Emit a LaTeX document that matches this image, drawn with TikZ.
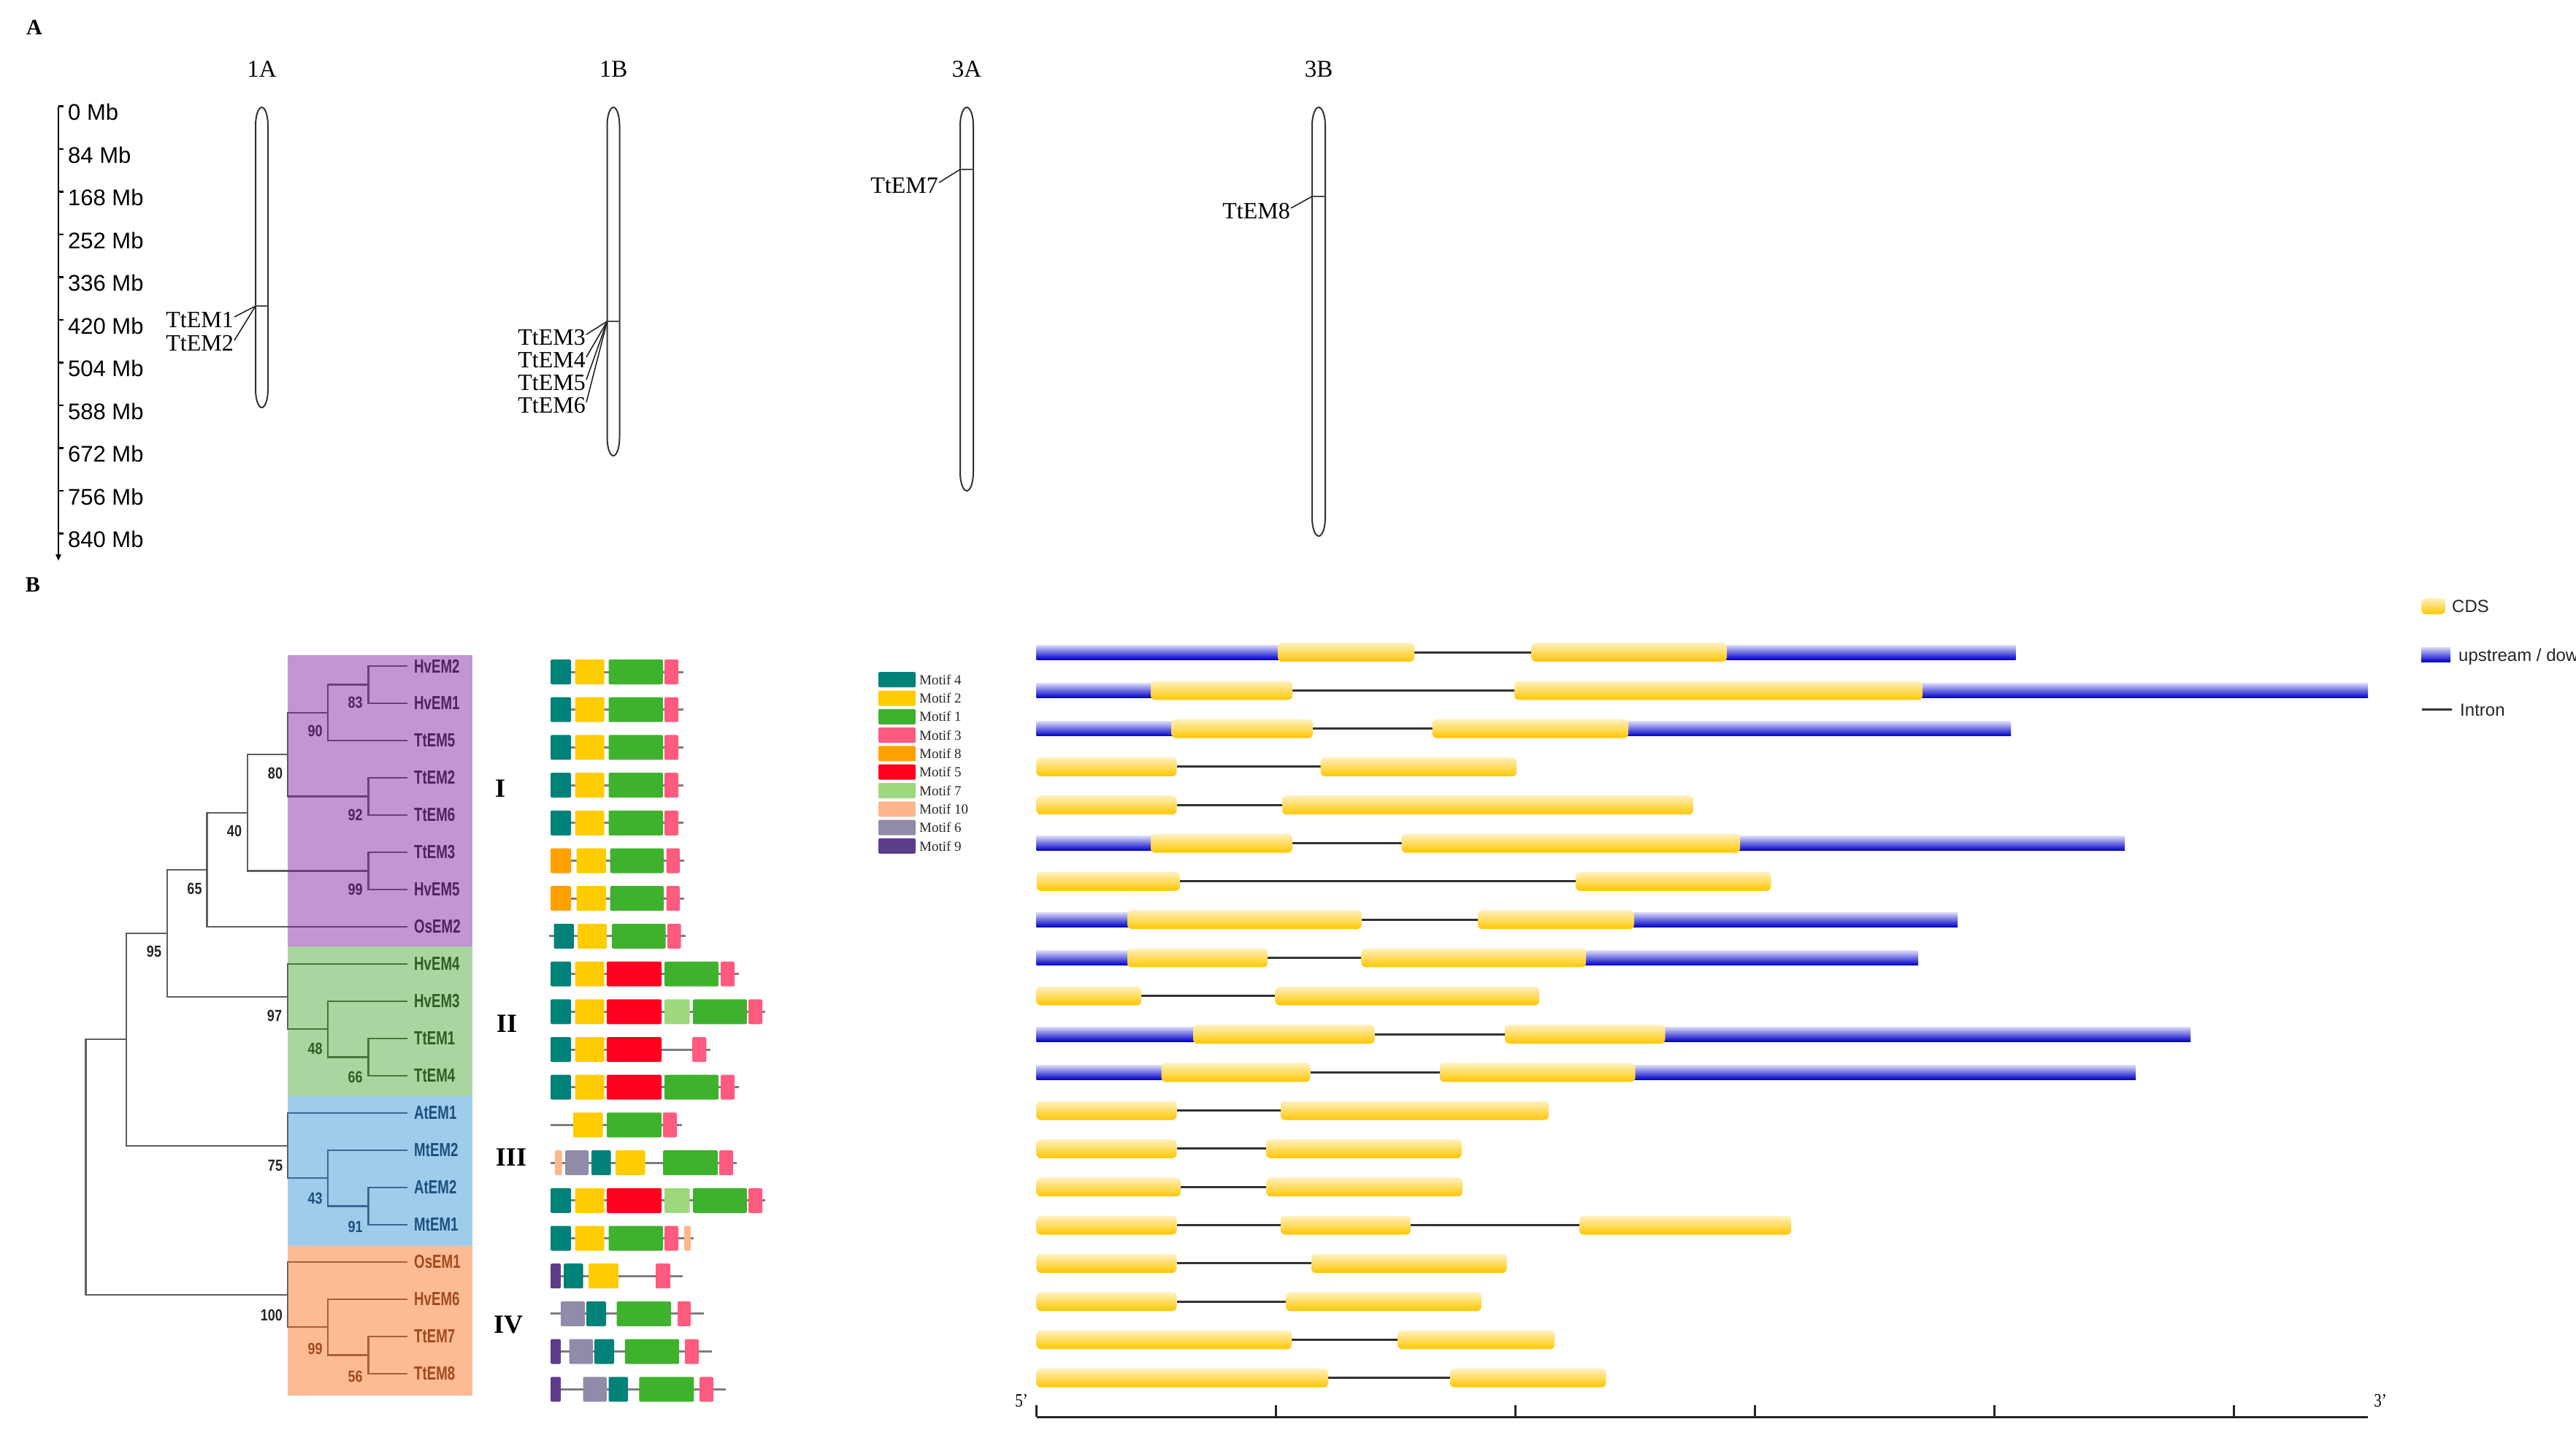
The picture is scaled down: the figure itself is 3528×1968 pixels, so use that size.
\documentclass[tikz,border=0pt]{standalone}
\usepackage{fontspec}
\setmainfont{Liberation Serif}
\newfontfamily\arialf{Liberation Sans}
\usetikzlibrary{arrows.meta}
\newcommand\fsz[1]{\fontsize{#1}{#1}\selectfont}
% colours
\definecolor{mTeal}{RGB}{0,130,120}
\definecolor{mYel}{RGB}{255,204,0}
\definecolor{mGrn}{RGB}{63,178,45}
\definecolor{mPink}{RGB}{255,90,128}
\definecolor{mOra}{RGB}{255,160,0}
\definecolor{mRed}{RGB}{255,0,30}
\definecolor{mLgr}{RGB}{157,216,126}
\definecolor{mPea}{RGB}{255,182,140}
\definecolor{mGry}{RGB}{145,138,168}
\definecolor{mPur}{RGB}{94,60,140}
\definecolor{mLine}{RGB}{125,125,125}
\definecolor{bxP}{RGB}{195,149,209}
\definecolor{bxG}{RGB}{169,213,160}
\definecolor{bxB}{RGB}{159,204,235}
\definecolor{bxO}{RGB}{253,187,147}
\definecolor{tP}{RGB}{80,35,95}
\definecolor{tG}{RGB}{45,95,35}
\definecolor{tB}{RGB}{30,80,125}
\definecolor{tO}{RGB}{160,75,30}
\definecolor{lP}{RGB}{105,65,120}
\definecolor{lG}{RGB}{70,120,60}
\definecolor{lB}{RGB}{60,105,145}
\definecolor{lO}{RGB}{170,95,55}
\definecolor{treeg}{RGB}{95,95,95}
\definecolor{cdsT}{RGB}{255,242,195}
\definecolor{cdsB}{RGB}{255,198,0}
\definecolor{utrT}{RGB}{220,220,250}
\definecolor{utrB}{RGB}{0,0,200}
\definecolor{intc}{RGB}{50,50,50}
% gene structure helpers
\newcommand\gy[1]{893+52.3*#1}
\newcommand\cdsb[3]{\shade[top color=cdsT,bottom color=cdsB,rounded corners=6pt] ({#1},{\gy{#3}-13}) rectangle ({#2},{\gy{#3}+13});}
\newcommand\utrb[3]{\shade[top color=utrT,bottom color=utrB] ({#1},{\gy{#3}-10}) rectangle ({#2},{\gy{#3}+10});}
\newcommand\intb[3]{\draw[line width=3pt,intc] ({#1},{\gy{#3}}) -- ({#2},{\gy{#3}});}
% motif helpers
\newcommand\my[1]{920+51.7*#1}
\newcommand\motb[4]{\fill[#1,rounded corners=2pt] ({#2},{\my{#4}-17}) rectangle ({#3},{\my{#4}+17});}
\newcommand\motl[3]{\draw[line width=3pt,mLine] ({#1},{\my{#3}}) -- ({#2},{\my{#3}});}
% tree edges
\newcommand\treeedges{%
\draw (n83) |- (l0) (n83) |- (l1)
 (n90) |- (n83) (n90) |- (l2)
 (n92) |- (l3) (n92) |- (l4)
 (n80) |- (n90) (n80) |- (n92)
 (n99a) |- (l5) (n99a) |- (l6)
 (n40) |- (n80) (n40) |- (n99a)
 (n65) |- (n40) (n65) |- (l7)
 (n66) |- (l10) (n66) |- (l11)
 (n48) |- (l9) (n48) |- (n66)
 (n97) |- (l8) (n97) |- (n48)
 (n95) |- (n65) (n95) |- (n97)
 (n91) |- (l14) (n91) |- (l15)
 (n43) |- (l13) (n43) |- (n91)
 (n75) |- (l12) (n75) |- (n43)
 (n173) |- (n95) (n173) |- (n75)
 (n56) |- (l18) (n56) |- (l19)
 (n99b) |- (l17) (n99b) |- (n56)
 (n100) |- (l16) (n100) |- (n99b)
 (nroot) |- (n173) (nroot) |- (n100);}
\begin{document}
\begin{tikzpicture}[x=1pt,y=-1pt,
  panel/.style={font=\bfseries\fsz{30},inner sep=0pt},
  chrlab/.style={font=\fsz{33},inner sep=0pt},
  genelab/.style={font=\fsz{32},inner sep=0pt,anchor=east},
  mblab/.style={font=\arialf\fsz{31},inner sep=0pt,anchor=base west},
  chrom/.style={line width=2pt,draw=black!80,fill=white},
  leaflab/.style={font=\arialf\bfseries\fsz{26},inner sep=0pt,anchor=west},
  bs/.style={font=\arialf\bfseries\fsz{22},inner sep=0pt},
  roman/.style={font=\bfseries\fsz{36},inner sep=0pt},
  mleg/.style={font=\fsz{19},inner sep=0pt,anchor=west,text=black!85},
  gleg/.style={font=\arialf\fsz{24},inner sep=0pt,anchor=west,text=black!85},
  conn/.style={line width=1.6pt,black!85}]
\useasboundingbox (0,0) rectangle (3528,1968);
\fill[white] (0,0) rectangle (3528,1968);

% ================= Panel A =================
\node[panel] (labA) at (47,38) {A};
% scale axis
\coordinate (axTop) at (80,145.5);
\coordinate (axBot) at (80,768);
\draw[line width=2.5pt,-{Triangle[length=9pt,width=7pt]}] (axTop) -- (axBot);
\foreach \k/\lab in {0/0,1/84,2/168,3/252,4/336,5/420,6/504,7/588,8/672,9/756,10/840}{
  \draw[line width=2.5pt] (80,{145.5+58.5*\k}) -- (87,{145.5+58.5*\k});
  \node[mblab] (mb\k) at (93,{164.5+58.5*\k}) {\lab\ Mb};
}
% chromosome labels
\node[chrlab] (c1A) at (358.5,95) {1A};
\node[chrlab] (c1B) at (840,95) {1B};
\node[chrlab] (c3A) at (1324,95) {3A};
\node[chrlab] (c3B) at (1806,95) {3B};
% chromosomes
\draw[chrom] (350,172) arc[start angle=180,end angle=360,x radius=8.5,y radius=25] -- (367,533) arc[start angle=0,end angle=180,x radius=8.5,y radius=25] -- cycle;
\draw[chrom] (831.5,172) arc[start angle=180,end angle=360,x radius=8.5,y radius=25] -- (848.5,599) arc[start angle=0,end angle=180,x radius=8.5,y radius=25] -- cycle;
\draw[chrom] (1315,172) arc[start angle=180,end angle=360,x radius=9,y radius=25] -- (1333,647) arc[start angle=0,end angle=180,x radius=9,y radius=25] -- cycle;
\draw[chrom] (1797,172) arc[start angle=180,end angle=360,x radius=9,y radius=25] -- (1815,709) arc[start angle=0,end angle=180,x radius=9,y radius=25] -- cycle;
% markers
\coordinate (m1A) at (350,419);
\coordinate (m1B) at (831.5,440);
\coordinate (m3A) at (1315,232);
\coordinate (m3B) at (1797,269);
\draw[line width=1.4pt,black!70] (m1A) -- (367,419);
\draw[line width=1.4pt,black!70] (m1B) -- (848.5,440);
\draw[line width=1.4pt,black!70] (m3A) -- (1333,232);
\draw[line width=1.4pt,black!70] (m3B) -- (1815,269);
% gene labels
\node[genelab] (g1) at (320,438) {TtEM1};
\node[genelab] (g2) at (320,470) {TtEM2};
\node[genelab] (g3) at (802,462) {TtEM3};
\node[genelab] (g4) at (802,493) {TtEM4};
\node[genelab] (g5) at (802,524) {TtEM5};
\node[genelab] (g6) at (802,555) {TtEM6};
\node[genelab] (g7) at (1285,254) {TtEM7};
\node[genelab] (g8) at (1767,289) {TtEM8};
\foreach \g/\m in {g1/m1A,g2/m1A,g3/m1B,g4/m1B,g5/m1B,g6/m1B,g7/m3A,g8/m3B}{
  \draw[conn] ([xshift=1pt,yshift=4pt]\g.east) -- (\m);
}

% ================= Panel B =================
\node[panel] (labB) at (45,801) {B};
% clade boxes
\fill[bxP] (394,897) rectangle (647,1296);
\fill[bxG] (394,1296) rectangle (647,1501);
\fill[bxB] (394,1501) rectangle (647,1706);
\fill[bxO] (394,1706) rectangle (647,1911);
% leaves
\foreach \i/\nm/\cl in {0/HvEM2/tP,1/HvEM1/tP,2/TtEM5/tP,3/TtEM2/tP,4/TtEM6/tP,5/TtEM3/tP,6/HvEM5/tP,7/OsEM2/tP,
  8/HvEM4/tG,9/HvEM3/tG,10/TtEM1/tG,11/TtEM4/tG,12/AtEM1/tB,13/MtEM2/tB,14/AtEM2/tB,15/MtEM1/tB,
  16/OsEM1/tO,17/HvEM6/tO,18/TtEM7/tO,19/TtEM8/tO}{
  \coordinate (l\i) at (558,{912+51*\i});
  \node[leaflab,text=\cl] (lab\i) at (567,{912+51*\i}) {\scalebox{0.72}[1]{\nm}};
}
% internal nodes
\coordinate (n83) at (504.5,937.5);
\coordinate (n90) at (448.7,975.75);
\coordinate (n92) at (504.5,1090.5);
\coordinate (n80) at (393.75,1033.1);
\coordinate (n99a) at (504.5,1192.5);
\coordinate (n40) at (339,1112.8);
\coordinate (n65) at (283.5,1190.9);
\coordinate (n66) at (504.5,1447.5);
\coordinate (n48) at (448.7,1409.25);
\coordinate (n97) at (393.75,1364.6);
\coordinate (n95) at (228.6,1277.8);
\coordinate (n91) at (504.5,1651.5);
\coordinate (n43) at (448.7,1613.25);
\coordinate (n75) at (393.75,1568.6);
\coordinate (n173) at (173,1423.2);
\coordinate (n56) at (504.5,1855.5);
\coordinate (n99b) at (448.7,1817.25);
\coordinate (n100) at (393.75,1772.6);
\coordinate (nroot) at (117.4,1597.9);
\begin{scope}[line width=2.2pt,color=treeg]
  \treeedges
\end{scope}
\begin{scope}
  \clip (394,897) rectangle (647,1296);
  \begin{scope}[line width=2.2pt,color=lP]\treeedges\end{scope}
\end{scope}
\begin{scope}
  \clip (394,1296) rectangle (647,1501);
  \begin{scope}[line width=2.2pt,color=lG]\treeedges\end{scope}
\end{scope}
\begin{scope}
  \clip (394,1501) rectangle (647,1706);
  \begin{scope}[line width=2.2pt,color=lB]\treeedges\end{scope}
\end{scope}
\begin{scope}
  \clip (394,1706) rectangle (647,1911);
  \begin{scope}[line width=2.2pt,color=lO]\treeedges\end{scope}
\end{scope}
% bootstrap values
\foreach \nm/\v/\x/\y/\cl in {b83/83/486.6/961.8/tP,b90/90/431.7/1001/tP,b80/80/377/1058.8/black!85,
  b92/92/486.6/1115.6/tP,b40/40/321/1138/black!85,b99a/99/486.6/1217.9/tP,b65/65/266.5/1217/black!85,
  b95/95/211/1302.7/black!85,b97/97/376/1390.6/black!85,b48/48/431.7/1436/tG,b66/66/486.6/1474.7/tG,
  b75/75/377/1596/black!85,b43/43/431.7/1641/tB,b91/91/486.6/1680/tB,b100/100/371.9/1801/black!85,
  b99b/99/431.7/1846.7/tO,b56/56/486.6/1884.5/tO}{
  \node[bs,text=\cl] (\nm) at (\x,\y) {\scalebox{0.82}[1]{\v}};
}
% clade numerals
\node[roman] (rI) at (685,1080) {I};
\node[roman] (rII) at (694,1402) {II};
\node[roman] (rIII) at (700,1585) {III};
\node[roman] (rIV) at (696,1814) {IV};

% ----- motifs -----
\foreach \r in {0,...,4}{
  \motl{754}{935.7}{\r} \motb{mTeal}{754}{782}{\r} \motb{mYel}{787.5}{827.7}{\r} \motb{mGrn}{833.5}{908}{\r} \motb{mPink}{910}{929}{\r}
}
\foreach \r in {5,6}{
  \motl{754}{937}{\r} \motb{mOra}{754}{782}{\r} \motb{mYel}{789.7}{830}{\r} \motb{mGrn}{835.7}{909}{\r} \motb{mPink}{912.5}{931}{\r}
}
\motl{752}{939}{7} \motb{mTeal}{758.5}{786}{7} \motb{mYel}{791}{831}{7} \motb{mGrn}{838}{911.6}{7} \motb{mPink}{914}{932.6}{7}
\foreach \r in {8,11}{
  \motl{754}{1011.6}{\r} \motb{mTeal}{754}{782}{\r} \motb{mYel}{787.5}{827.7}{\r} \motb{mRed}{831}{906}{\r} \motb{mGrn}{910}{984}{\r} \motb{mPink}{987}{1006}{\r}
}
\foreach \r in {9,14}{
  \motl{754}{1048}{\r} \motb{mTeal}{754}{782}{\r} \motb{mYel}{787.5}{827.7}{\r} \motb{mRed}{831}{906}{\r} \motb{mLgr}{910}{944.6}{\r} \motb{mGrn}{949}{1022.8}{\r} \motb{mPink}{1025}{1044}{\r}
}
\motl{754}{972.8}{10} \motb{mTeal}{754}{782}{10} \motb{mYel}{787.5}{827.7}{10} \motb{mRed}{831}{906}{10} \motb{mPink}{948}{967.4}{10}
\motl{754}{934}{12} \motb{mYel}{785}{825.5}{12} \motb{mGrn}{831}{906}{12} \motb{mPink}{908}{927}{12}
\motl{754}{1008.5}{13} \motb{mPea}{760}{769.6}{13} \motb{mGry}{774}{806}{13} \motb{mTeal}{810}{836.6}{13} \motb{mYel}{843}{883.5}{13} \motb{mGrn}{908}{983}{13} \motb{mPink}{985}{1004}{13}
\motl{754}{950}{15} \motb{mTeal}{754}{782}{15} \motb{mYel}{787.5}{827.7}{15} \motb{mGrn}{833.5}{908}{15} \motb{mPink}{910}{929}{15} \motb{mPea}{937}{946}{15}
\motl{754}{935}{16} \motb{mPur}{754}{768}{16} \motb{mTeal}{772}{798.7}{16} \motb{mYel}{806}{847}{16} \motb{mPink}{898}{918}{16}
\motl{754}{964}{17} \motb{mGry}{768}{801}{17} \motb{mTeal}{803}{830}{17} \motb{mGrn}{844.6}{919}{17} \motb{mPink}{928}{946}{17}
\motl{754}{975}{18} \motb{mPur}{754}{768}{18} \motb{mGry}{779.5}{812}{18} \motb{mTeal}{814}{841}{18} \motb{mGrn}{855.8}{930}{18} \motb{mPink}{938}{957}{18}
\motl{754}{994}{19} \motb{mPur}{754}{768}{19} \motb{mGry}{798.7}{830.8}{19} \motb{mTeal}{833.5}{860}{19} \motb{mGrn}{875.4}{950.4}{19} \motb{mPink}{958}{977}{19}

% motif legend
\foreach \k/\c/\t in {0/mTeal/4,1/mYel/2,2/mGrn/1,3/mPink/3,4/mOra/8,5/mRed/5,6/mLgr/7,7/mPea/10,8/mGry/6,9/mPur/9}{
  \fill[\c,rounded corners=1.5pt] (1203,{930.7+25.3*\k-10.5}) rectangle (1254,{930.7+25.3*\k+10.5});
  \node[mleg] (ml\k) at (1259,{930.7+25.3*\k}) {Motif \t};
}

% ----- gene structures -----
% row 0
\intb{1937}{2097.5}{0} \utrb{1419.5}{1752}{0} \utrb{2362}{2760.5}{0} \cdsb{1750}{1937}{0} \cdsb{2097.5}{2365}{0}
% row 1
\intb{1770}{2074}{1} \utrb{1419.5}{1579}{1} \utrb{2630}{3243}{1} \cdsb{1576}{1770}{1} \cdsb{2074}{2633}{1}
% row 2
\intb{1798}{1961.6}{2} \utrb{1419.5}{1607}{2} \utrb{2227}{2754}{2} \cdsb{1604.5}{1798}{2} \cdsb{1961.6}{2230}{2}
% row 3
\intb{1611.5}{1808.6}{3} \cdsb{1419.5}{1611.5}{3} \cdsb{1808.6}{2077}{3}
% row 4
\intb{1611.5}{1756}{4} \cdsb{1419.5}{1611.5}{4} \cdsb{1756}{2319}{4}
% row 5
\intb{1770}{1919.5}{5} \utrb{1419.5}{1579}{5} \utrb{2380}{2910}{5} \cdsb{1576}{1770}{5} \cdsb{1919.5}{2383}{5}
% row 6
\intb{1616}{2158}{6} \cdsb{1419.5}{1616}{6} \cdsb{2158}{2425.6}{6}
% row 7
\intb{1864.7}{2024}{7} \utrb{1419.5}{1547}{7} \utrb{2235}{2681}{7} \cdsb{1544}{1864.7}{7} \cdsb{2024}{2238}{7}
% row 8
\intb{1736}{1864.7}{8} \utrb{1419.5}{1547}{8} \utrb{2169}{2627}{8} \cdsb{1544}{1736}{8} \cdsb{1864.7}{2172}{8}
% row 9
\intb{1563}{1746.7}{9} \cdsb{1419.5}{1563}{9} \cdsb{1746.7}{2108}{9}
% row 10
\intb{1882.5}{2061}{10} \utrb{1419.5}{1637}{10} \utrb{2277}{3000}{10} \cdsb{1634}{1882.5}{10} \cdsb{2061}{2280.5}{10}
% row 11
\intb{1794.5}{1972}{11} \utrb{1419.5}{1593}{11} \utrb{2236}{2925}{11} \cdsb{1590.5}{1794.5}{11} \cdsb{1972}{2239.7}{11}
% row 12
\intb{1611.5}{1754}{12} \cdsb{1419.5}{1611.5}{12} \cdsb{1754}{2121}{12}
% row 13
\intb{1611.5}{1734}{13} \cdsb{1419.5}{1611.5}{13} \cdsb{1734}{2002}{13}
% row 14
\intb{1617}{1734.6}{14} \cdsb{1419.5}{1617}{14} \cdsb{1734.6}{2003}{14}
% row 15
\intb{1611.5}{1754}{15} \intb{1932}{2163}{15} \cdsb{1419.5}{1611.5}{15} \cdsb{1754}{1932}{15} \cdsb{2163}{2453}{15}
% row 16
\intb{1611.5}{1796}{16} \cdsb{1419.5}{1611.5}{16} \cdsb{1796}{2063.7}{16}
% row 17
\intb{1611.5}{1761}{17} \cdsb{1419.5}{1611.5}{17} \cdsb{1761}{2029}{17}
% row 18
\intb{1769}{1914.4}{18} \cdsb{1419.5}{1769}{18} \cdsb{1914.4}{2129}{18}
% row 19
\intb{1819}{1986}{19} \cdsb{1419.5}{1819}{19} \cdsb{1986}{2199.5}{19}

% scale axis of gene structures
\coordinate (gaL) at (1419.5,1940);
\coordinate (gaR) at (3243,1940);
\draw[line width=3pt,black!85] (gaL) -- (gaR);
\foreach \k in {0,...,5}{
  \draw[line width=2.5pt,black!85] ({1419.5+328*\k},1940) -- ({1419.5+328*\k},1924);
}
\node[font=\fsz{26},inner sep=0pt] (p5) at (1399,1918) {\scalebox{0.8}[1]{5'}};
\node[font=\fsz{26},inner sep=0pt] (p3) at (3260,1918) {\scalebox{0.8}[1]{3'}};

% gene structure legend
\shade[top color=cdsT,bottom color=cdsB,rounded corners=6pt] (3316,819) rectangle (3349,841);
\node[gleg] (lgCDS) at (3358,830) {CDS};
\shade[top color=utrT,bottom color=utrB] (3316,886) rectangle (3356,906);
\begin{scope}
  \clip (3300,860) rectangle (3528,930);
  \node[gleg] (lgUTR) at (3367,899) {upstream / downstream};
\end{scope}
\draw[line width=3pt,intc] (3317,971) -- (3358,971);
\node[gleg] (lgInt) at (3369,972) {Intron};
\end{tikzpicture}
\end{document}
